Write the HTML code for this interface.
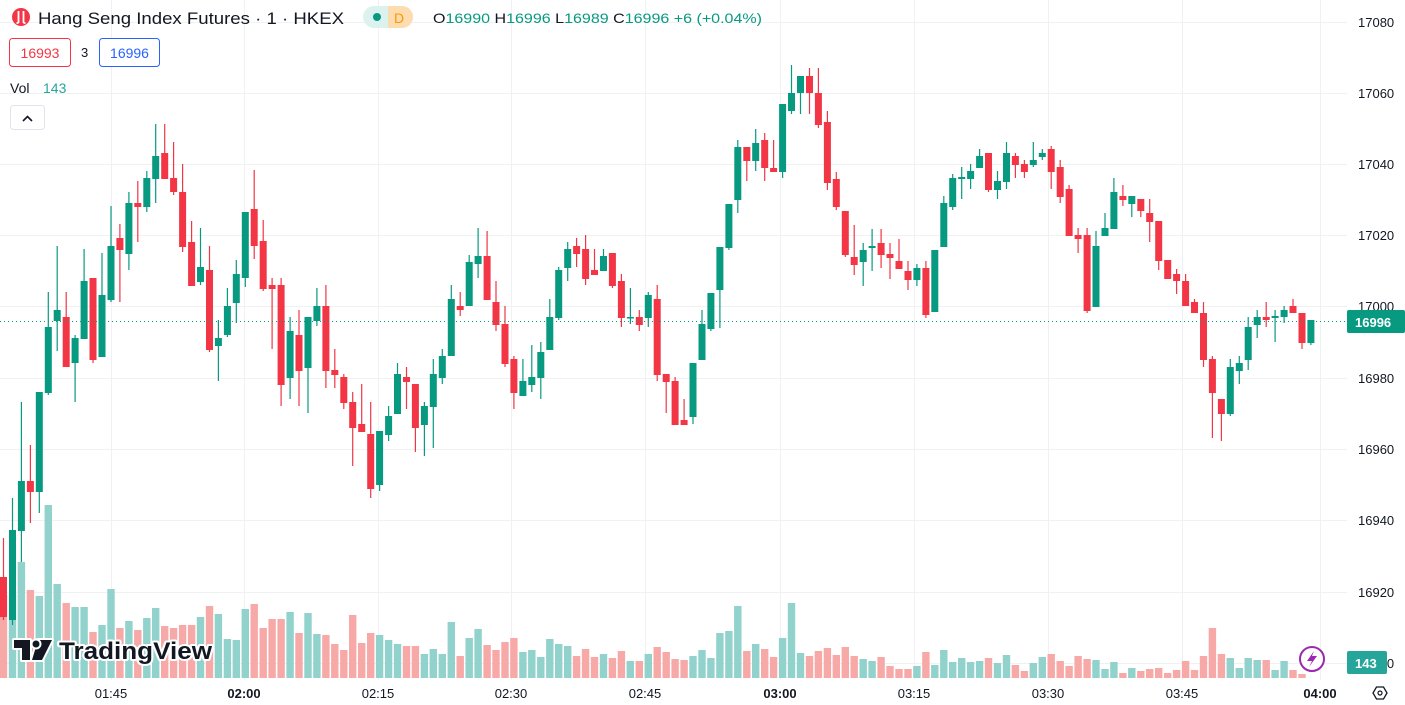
<!DOCTYPE html>
<html><head><meta charset="utf-8"><style>
html,body{margin:0;padding:0;background:#fff;}
body{width:1405px;height:705px;overflow:hidden;position:relative;font-family:"Liberation Sans",sans-serif;}
svg{position:absolute;left:0;top:0;}
</style></head><body>
<svg id="s" width="1405" height="705" xmlns="http://www.w3.org/2000/svg"></svg>
<script>
var D=[[577,617,538,620,0,595],[530,620,498,625,1,594],[481,531,402,562,1,562],[481,492,445,523,0,590],[392,492,392,513,1,596],[327,393,292,395,1,505],[310,321,246,351,1,584],[317,367,292,367,0,603],[338,363,335,402,1,607],[281,339,249,339,1,607],[278,360,278,363,0,632],[295,357,253,357,1,625],[246,300,206,302,1,589],[238,250,224,302,0,628],[203,254,192,270,1,621],[203,207,181,242,0,630],[178,207,171,212,1,618],[156,179,124,203,1,608],[153,179,124,179,0,626],[178,192,142,195,0,628],[192,247,164,252,0,625],[242,286,221,286,0,625],[267,282,228,285,1,617],[270,350,246,352,0,606],[338,346,320,381,1,614],[306,335,288,337,1,639],[274,303,260,323,1,640],[212,278,212,287,1,609],[209,246,170,259,0,604],[241,289,220,291,0,628],[285,289,278,349,0,619],[285,385,278,406,0,619],[331,378,317,399,1,612],[335,371,310,406,0,633],[317,368,317,413,1,613],[306,321,288,326,1,634],[306,371,285,388,0,635],[370,375,349,388,0,644],[377,403,374,409,0,650],[402,428,392,466,0,615],[424,432,384,432,0,643],[434,489,402,498,0,633],[431,485,431,491,1,635],[416,435,406,441,1,640],[374,414,363,414,1,644],[377,382,367,409,0,646],[384,428,384,452,0,646],[406,425,402,456,1,654],[374,407,359,448,1,649],[356,378,349,384,1,654],[299,356,285,356,1,622],[306,310,292,316,0,656],[262,306,255,306,1,638],[256,264,228,278,1,629],[256,300,231,300,0,645],[302,325,281,331,0,650],[324,364,306,367,0,642],[359,393,356,409,0,638],[381,396,359,396,1,652],[377,385,345,392,1,650],[352,378,342,399,1,657],[317,350,299,350,1,639],[270,318,267,320,1,644],[249,268,242,281,1,646],[246,254,238,267,0,656],[249,279,235,285,0,649],[270,275,249,275,0,657],[256,271,249,271,1,654],[253,286,253,288,0,658],[281,318,274,327,0,651],[317,318,288,324,1,661],[317,325,310,331,0,661],[295,318,292,327,1,654],[299,375,285,381,0,647],[374,382,374,413,0,652],[381,425,377,425,0,659],[420,425,399,425,0,660],[363,417,363,424,1,656],[324,360,310,360,1,650],[293,329,293,331,1,658],[247,290,247,328,1,633],[204,248,204,250,1,631],[147,200,140,213,1,606],[147,161,147,181,0,651],[143,161,129,171,1,644],[140,168,133,181,0,649],[168,172,140,172,0,657],[104,172,104,178,1,638],[93,111,65,114,1,603],[76,93,76,114,1,653],[76,93,68,114,0,656],[93,125,68,128,0,651],[122,183,111,190,0,648],[179,207,172,210,0,655],[211,255,211,257,0,647],[257,265,225,275,0,656],[250,262,243,286,1,659],[246,248,229,271,1,661],[243,255,229,268,0,657],[254,258,243,279,0,666],[261,269,239,269,0,669],[271,280,261,290,0,669],[268,280,264,286,1,666],[268,315,261,318,0,652],[250,312,250,312,1,665],[203,247,196,247,1,650],[178,207,174,210,1,662],[177,179,167,199,1,658],[171,179,164,189,1,662],[156,168,149,168,1,661],[153,190,153,192,0,658],[181,190,171,199,1,663],[153,182,142,189,1,655],[156,165,153,178,0,665],[164,172,160,178,0,671],[160,165,142,167,1,663],[153,157,149,160,1,657],[149,172,146,189,0,654],[167,197,160,203,0,661],[189,236,185,236,0,666],[235,239,228,253,0,656],[235,311,228,313,0,659],[246,307,231,307,1,660],[228,236,213,236,1,669],[192,229,178,229,1,662],[196,200,185,206,0,673],[196,204,196,217,1,668],[199,211,199,217,0,671],[213,222,199,242,0,669],[221,261,221,270,0,668],[260,279,260,279,0,673],[274,281,269,294,0,670],[281,306,274,306,0,661],[302,313,299,313,0,670],[313,360,302,367,0,656],[359,393,356,438,0,628],[399,414,399,441,0,654],[367,414,359,416,1,658],[363,371,356,384,1,668],[327,360,317,370,1,658],[317,325,310,338,1,660],[317,320,302,327,0,660],[316,318,310,342,1,670],[310,317,306,323,1,661],[306,313,299,313,0,670],[313,343,313,349,0,674],[320,343,320,345,1,678]];
var h='';
var gy=[22,93,164,235,306,378,449,520,592,663];
gy.forEach(function(y){h+='<line x1="0" x2="1347" y1="'+(y+0.5)+'" y2="'+(y+0.5)+'" stroke="#f0f1f3" stroke-width="1"/>';});
var gx=[111,244,378,511,645,780,914,1048,1182,1320];
gx.forEach(function(x){h+='<line y1="0" y2="680" x1="'+(x+0.5)+'" x2="'+(x+0.5)+'" stroke="#f0f1f3" stroke-width="1"/>';});
D.forEach(function(d,i){var x=3.5+i*8.955;h+='<rect x="'+(x-3.7).toFixed(1)+'" y="'+d[5]+'" width="7.4" height="'+(678-d[5])+'" fill="'+(d[4]?'#92d2cc':'#f7a9a7')+'"/>';});
D.forEach(function(d,i){var x=3.5+i*8.955,c=d[4]?'#089981':'#f23645';
h+='<line x1="'+x.toFixed(1)+'" x2="'+x.toFixed(1)+'" y1="'+d[2]+'" y2="'+d[3]+'" stroke="'+c+'" stroke-width="1.2"/>';
h+='<rect x="'+(x-3.5).toFixed(1)+'" y="'+d[0]+'" width="7" height="'+Math.max(1.5,d[1]-d[0])+'" fill="'+c+'"/>';});
h+='<line x1="0" x2="1347" y1="321.5" y2="321.5" stroke="#089981" stroke-width="1" stroke-dasharray="1,3"/>';
var pl=['17080','17060','17040','17020','17000','16980','16960','16940','16920','16900'];
pl.forEach(function(t,k){if(k==9)return;h+='<text x="1358" y="'+(gy[k]+5)+'" font-size="13" fill="#131722">'+t+'</text>';});
h+='<text x="1358" y="668" font-size="13" fill="#131722">16900</text>';
h+='<rect x="1347" y="310" width="58" height="23" rx="2" fill="#089981"/><text x="1355" y="327" font-size="13" font-weight="bold" fill="#fff">16996</text>';
h+='<rect x="1347" y="651" width="40" height="23" rx="2" fill="#26a69a"/><text x="1355" y="668" font-size="13" font-weight="bold" fill="#fff">143</text>';
var tl=['01:45','02:00','02:15','02:30','02:45','03:00','03:15','03:30','03:45','04:00'];
tl.forEach(function(t,k){var b=(t=='02:00'||t=='03:00'||t=='04:00');h+='<text x="'+gx[k]+'" y="698" text-anchor="middle" font-size="13" fill="#131722"'+(b?' font-weight="bold"':'')+'>'+t+'</text>';});
h+='<polygon points="1373,693 1376.5,687 1383.5,687 1387,693 1383.5,699 1376.5,699" fill="none" stroke="#131722" stroke-width="1.3"/><circle cx="1380" cy="693" r="2" fill="none" stroke="#131722" stroke-width="1.2"/>';
h+='<circle cx="1312" cy="659" r="12" fill="#fff" stroke="#9c27b0" stroke-width="2"/><path d="M1314,651 L1307,661 L1312,661 L1309,667 L1317,656 L1312,656 Z" fill="#9c27b0"/>';
h+='<g stroke="#fff" stroke-width="4" paint-order="stroke" stroke-linejoin="round"><path d="M14,640 H30 V660 H22 V648 H14 Z M38,640 H52 L42,660 H32 Z" fill="#131722"/><circle cx="36" cy="644" r="3.5" fill="#131722"/>';
h+='<text x="59" y="659" font-size="24" font-weight="bold" fill="#131722" textLength="153" lengthAdjust="spacingAndGlyphs">TradingView</text></g>';
// header
h+='<circle cx="21" cy="17" r="9" fill="#f23645"/><path d="M18.5,11 V23 M23.5,11 V23 M16.5,23 H18.5 M23.5,23 H25.5" stroke="#fff" stroke-width="1.8" fill="none"/>';
h+='<text x="38" y="24" font-size="16.5" fill="#131722" textLength="306" lengthAdjust="spacingAndGlyphs">Hang Seng Index Futures · 1 · HKEX</text>';
h+='<rect x="363" y="6" width="50" height="22" rx="11" fill="#dcf2ef"/><path d="M388,6 H402 A11,11 0 0 1 402,28 H388 Z" fill="#fddcb0"/>';
h+='<circle cx="377" cy="17" r="4" fill="#089981"/><text x="394" y="23" font-size="14" fill="#ff9800">D</text>';
h+='<text y="23" font-size="14" textLength="329" lengthAdjust="spacingAndGlyphs" x="433"><tspan fill="#131722">O</tspan><tspan fill="#089981">16990</tspan><tspan fill="#131722"> H</tspan><tspan fill="#089981">16996</tspan><tspan fill="#131722"> L</tspan><tspan fill="#089981">16989</tspan><tspan fill="#131722"> C</tspan><tspan fill="#089981">16996 +6 (+0.04%)</tspan></text>';
h+='<rect x="9.5" y="38.5" width="61" height="28" rx="3" fill="#fff" stroke="#f23645"/><text x="40" y="58" text-anchor="middle" font-size="14" fill="#f23645">16993</text>';
h+='<text x="81" y="57" font-size="13" fill="#131722">3</text>';
h+='<rect x="99.5" y="38.5" width="60" height="28" rx="3" fill="#fff" stroke="#2962ff"/><text x="129.5" y="58" text-anchor="middle" font-size="14" fill="#2962ff">16996</text>';
h+='<text x="10" y="93" font-size="14" fill="#131722">Vol</text><text x="43" y="93" font-size="14" fill="#26a69a">143</text>';
h+='<rect x="10.5" y="105.5" width="34" height="24" rx="3" fill="#fff" stroke="#e0e3eb"/><path d="M23,121 L27.5,116.5 L32,121" stroke="#131722" stroke-width="1.6" fill="none"/>';
document.getElementById('s').innerHTML=h;
</script>
</body></html>
